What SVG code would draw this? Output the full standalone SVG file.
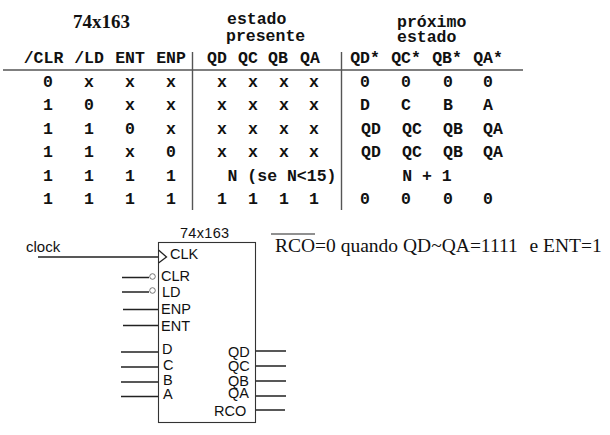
<svg xmlns="http://www.w3.org/2000/svg" width="610" height="435" viewBox="0 0 610 435">
<style>
text{fill:#111}
.m{font-family:"Liberation Mono",monospace;font-weight:700;font-size:16.5px;text-anchor:middle}
.h{font-family:"Liberation Mono",monospace;font-weight:700;font-size:16.5px}
.s{font-family:"Liberation Sans",Arial,sans-serif;font-size:14.5px}
.c{font-family:"Liberation Sans",Arial,sans-serif;font-size:15px}
.t{font-family:"Liberation Serif",serif;font-size:19.5px}
.l{stroke:#222;stroke-width:1.3;fill:none}
.g{stroke:#555;stroke-width:1.4;fill:none}
</style>
<g id="table">
<text x="73" y="28" font-family="Liberation Serif,serif" font-weight="700" font-size="19">74x163</text>
<text class="h" x="227" y="24">estado</text><text class="h" x="226" y="41">presente</text>
<text class="h" x="397" y="27">próximo</text><text class="h" x="397" y="42">estado</text>
<g class="m">
<text x="43.500" y="63">/CLR</text><text x="89" y="63">/LD</text><text x="130" y="63">ENT</text><text x="171" y="63">ENP</text>
<text x="217" y="63">QD</text><text x="248" y="63">QC</text><text x="278" y="63">QB</text><text x="310" y="63">QA</text>
<text x="365" y="63">QD*</text><text x="406" y="63">QC*</text><text x="447" y="63">QB*</text><text x="488" y="63">QA*</text>
<text x="48" y="87">0</text><text x="89" y="87">x</text><text x="130" y="87">x</text><text x="171" y="87">x</text><text x="222" y="87">x</text><text x="253" y="87">x</text><text x="284" y="87">x</text><text x="314" y="87">x</text><text x="365" y="87">0</text><text x="406" y="87">0</text><text x="448" y="87">0</text><text x="488" y="87">0</text>
<text x="48" y="110">1</text><text x="89" y="110">0</text><text x="130" y="110">x</text><text x="171" y="110">x</text><text x="222" y="110">x</text><text x="253" y="110">x</text><text x="284" y="110">x</text><text x="314" y="110">x</text><text x="365" y="110">D</text><text x="406" y="110">C</text><text x="448" y="110">B</text><text x="488" y="110">A</text>
<text x="48" y="134">1</text><text x="89" y="134">1</text><text x="130" y="134">0</text><text x="171" y="134">x</text><text x="222" y="134">x</text><text x="253" y="134">x</text><text x="284" y="134">x</text><text x="314" y="134">x</text><text x="371" y="134">QD</text><text x="412" y="134">QC</text><text x="453" y="134">QB</text><text x="493" y="134">QA</text>
<text x="48" y="157">1</text><text x="89" y="157">1</text><text x="130" y="157">x</text><text x="171" y="157">0</text><text x="222" y="157">x</text><text x="253" y="157">x</text><text x="284" y="157">x</text><text x="314" y="157">x</text><text x="371" y="157">QD</text><text x="412" y="157">QC</text><text x="453" y="157">QB</text><text x="493" y="157">QA</text>
<text x="48" y="181">1</text><text x="89" y="181">1</text><text x="130" y="181">1</text><text x="171" y="181">1</text><text x="282" y="181">N (se N&lt;15)</text><text x="427" y="181">N + 1</text>
<text x="48" y="204">1</text><text x="89" y="204">1</text><text x="130" y="204">1</text><text x="171" y="204">1</text><text x="222" y="204">1</text><text x="253" y="204">1</text><text x="284" y="204">1</text><text x="314" y="204">1</text><text x="365" y="204">0</text><text x="406" y="204">0</text><text x="448" y="204">0</text><text x="488" y="204">0</text>
</g>
<path class="g" d="M3 70H523M192.500 52V210M341.500 52V210"/>
</g>
<g id="chip-74x163">
<rect x="158.500" y="242.500" width="97" height="180" fill="none" stroke="#333" stroke-width="1.1"/>
<path class="l" d="M158.500 250L166.500 257L158.500 263"/>
<text class="s" x="180" y="238" letter-spacing=".3">74x163</text>
<text class="s" x="170" y="259">CLK</text><text class="s" x="161" y="281">CLR</text><text class="s" x="162" y="297">LD</text><text class="s" x="161" y="314">ENP</text><text class="s" x="161" y="331">ENT</text>
<text class="s" x="162" y="354">D</text><text class="s" x="163" y="370">C</text><text class="s" x="163" y="385">B</text><text class="s" x="163" y="399">A</text>
<text class="s" x="228" y="357">QD</text><text class="s" x="228" y="371">QC</text><text class="s" x="228" y="386">QB</text><text class="s" x="228" y="398">QA</text><text class="s" x="214" y="416">RCO</text>
</g>
<g id="connectors">
<path class="l" d="M38 257H158M122 277.500H149M122 292H149M123 309.500H158M123 325.500H158M121 352H158M121 367H158M121 382H158M121 396.500H158M256 351H286M256 366H286M256 381H286M256 396H286M256 410H285"/>
<circle cx="152.500" cy="276.500" r="2.800" fill="#fff" stroke="#666" stroke-width=".9"/>
<circle cx="152.500" cy="290.500" r="2.800" fill="#fff" stroke="#666" stroke-width=".9"/>
</g>
<g id="labels">
<text class="c" x="26" y="252">clock</text>
<text class="t" x="275" y="252">RCO=0 quando QD~QA=1111 <tspan dx="7">e ENT=1</tspan></text>
<path d="M271 234H315" stroke="#222" stroke-width="1.200"/>
</g>
</svg>
